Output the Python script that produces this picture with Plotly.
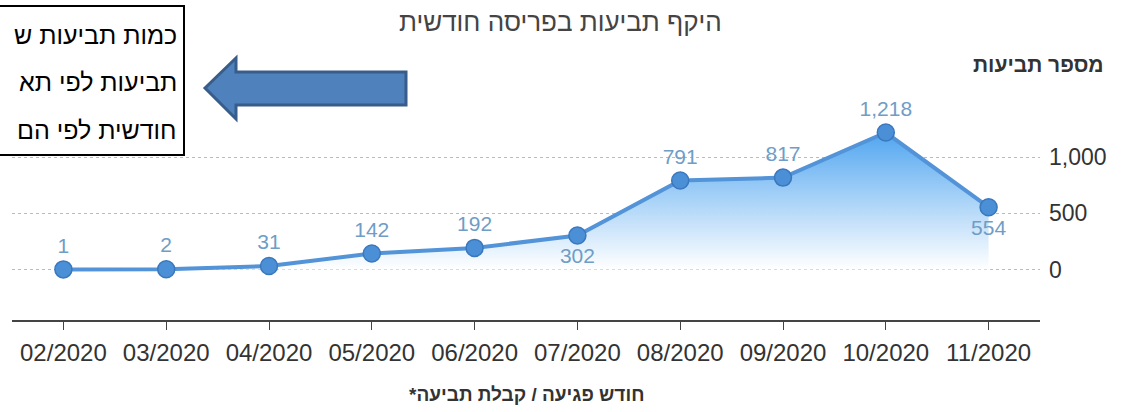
import plotly.graph_objects as go

months = ["02/2020", "03/2020", "04/2020", "05/2020", "06/2020",
          "07/2020", "08/2020", "09/2020", "10/2020", "11/2020"]
claims = [1, 2, 31, 142, 192, 302, 791, 817, 1218, 554]
label_pos = ["top center"] * 5 + ["bottom center"] + ["top center"] * 3 + ["bottom center"]
y_ticks = [0, 500, 1000]

title_text = "היקף תביעות בפריסה חודשית"
y_title = "מספר תביעות"
x_title = "*חודש פגיעה / קבלת תביעה"
note_lines = ["כמות תביעות ש", "תביעות לפי תא", "חודשית לפי הם"]

W, H = 1121, 412
L, R, T, B = 12, 1040, 100, 320


def px(x):
    return (x - L) / (R - L)


def py(y):
    return (B - y) / (B - T)


idx = list(range(len(months)))

fig = go.Figure()
fig.add_trace(go.Scatter(
    x=idx, y=claims, mode="lines+markers+text",
    text=[f"{v:,}" for v in claims], textposition=label_pos,
    textfont=dict(family="Liberation Sans, Arial", size=21, color="#6f9dc6"),
    line=dict(color="#5393d8", width=4),
    marker=dict(size=17, color="#4b8fd6", line=dict(color="#3a78bd", width=1.5)),
    fill="tozeroy",
    fillgradient=dict(type="vertical",
                      colorscale=[[0, "rgba(255,255,255,0.95)"],
                                  [1, "rgba(80,165,240,1)"]]),
    cliponaxis=False,
    hoverinfo="x+y",
))

fig.update_layout(
    width=W, height=H,
    margin=dict(l=L, r=W - R, t=T, b=H - B),
    paper_bgcolor="white", plot_bgcolor="white",
    showlegend=False,
    font=dict(family="Liberation Sans, Arial", color="#333"),
    separators=".,",
    xaxis=dict(
        range=[-0.5, 9.5],
        tickvals=idx, ticktext=months,
        showgrid=False, zeroline=False,
        showline=True, linecolor="#444", linewidth=1.5,
        ticks="outside", ticklen=8, tickcolor="#444", tickwidth=1,
        tickfont=dict(size=24, color="#333"),
        ticklabelstandoff=2,
    ),
    yaxis=dict(
        range=[-449, 1507], side="right",
        tickvals=y_ticks, tickformat=",",
        showgrid=True, gridcolor="#bbbbbb", griddash="dot", gridwidth=1,
        zeroline=False, showline=False,
        tickfont=dict(size=23, color="#333"),
        ticklabelstandoff=8,
    ),
)

shapes = []
# note box
shapes.append(dict(type="rect", xref="paper", yref="paper",
                   x0=px(-10), x1=px(184), y0=py(6), y1=py(155),
                   fillcolor="white", line=dict(color="black", width=2), layer="above"))
# arrow
pts = [(205, 88), (236, 58), (236, 72), (406, 72), (406, 105), (236, 105), (236, 119)]
path = "M " + " L ".join(f"{px(a):.5f},{py(b):.5f}" for a, b in pts) + " Z"
shapes.append(dict(type="path", xref="paper", yref="paper", path=path,
                   fillcolor="#4f81bd", line=dict(color="#385d8a", width=3), layer="above"))
fig.update_layout(shapes=shapes)

ann = []
ann.append(dict(text=title_text, xref="paper", yref="paper", x=px(560), y=py(22),
                xanchor="center", yanchor="middle", showarrow=False,
                font=dict(size=26, color="#444")))
ann.append(dict(text=f"<b>{y_title}</b>", xref="paper", yref="paper", x=px(1106), y=py(65),
                xanchor="right", yanchor="middle", showarrow=False,
                font=dict(size=21, color="#333")))
ann.append(dict(text=f"<b>{x_title}</b>", xref="paper", yref="paper", x=px(526), y=py(394),
                xanchor="center", yanchor="middle", showarrow=False,
                font=dict(size=19, color="#333")))
for i, (line, yy) in enumerate(zip(note_lines, [35, 82, 130])):
    ann.append(dict(text=line, xref="paper", yref="paper", x=px(179), y=py(yy),
                    xanchor="right", yanchor="middle", showarrow=False,
                    font=dict(family="Liberation Sans, Arial", size=25, color="black")))
fig.update_layout(annotations=ann)

fig.write_html("out.html", config={"displayModeBar": False},
               post_script="document.body.style.margin='0';")
